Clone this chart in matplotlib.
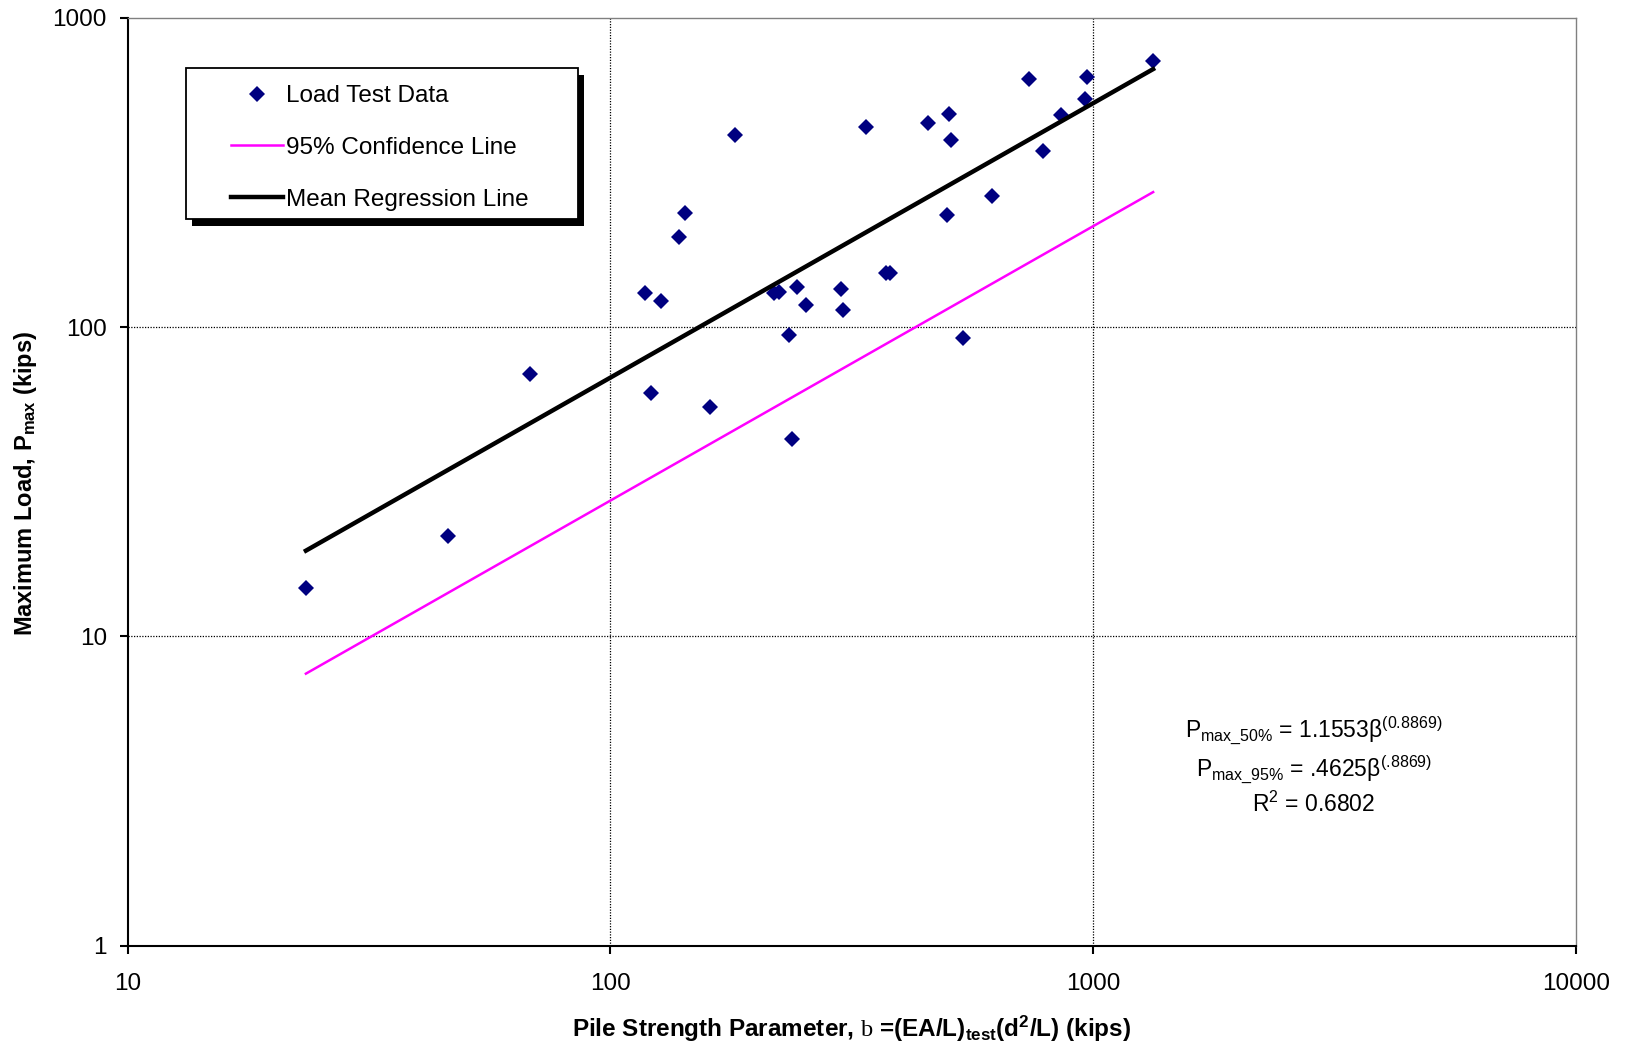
import numpy as np
import matplotlib
matplotlib.use("Agg")
import matplotlib.pyplot as plt
from matplotlib.lines import Line2D
from matplotlib.patches import Rectangle
from matplotlib.ticker import FixedLocator, FixedFormatter, NullLocator

plt.rcParams['font.family'] = ['Liberation Sans', 'DejaVu Sans']
plt.rcParams['mathtext.fontset'] = 'custom'
plt.rcParams['mathtext.rm'] = 'Liberation Serif'
plt.rcParams['mathtext.sf'] = 'Liberation Sans'
plt.rcParams['mathtext.bf'] = 'Liberation Sans:bold'
plt.rcParams['mathtext.it'] = 'Liberation Sans:italic'

# Pile strength parameter (kips) and measured maximum load (kips)
beta = [23.4, 46.0, 68.0, 117.8, 127.4, 121.3, 138.6, 142.7, 160.7, 180.9,
        218.3, 223.8, 235.0, 243.4, 254.4, 237.5, 301.0, 304.0, 339.0, 372.0,
        380.0, 456.0, 503.0, 508.0, 498.0, 539.0, 619.0, 736.0, 789.0, 858.0,
        971.0, 961.0, 1332.0]
pmax = [14.3, 21.1, 70.3, 129.0, 121.5, 61.2, 196.0, 234.0, 55.3, 418.0,
        129.0, 130.0, 94.2, 134.5, 118.0, 43.5, 133.0, 113.4, 444.0, 149.7,
        149.7, 458.0, 488.0, 402.0, 231.0, 92.1, 265.0, 634.0, 372.0, 484.0,
        644.0, 548.0, 723.0]

# Power-law fit: P = a * beta^b
coef_mean = 1.1553
coef_95 = 0.4625
exponent = 0.8869
r_squared = 0.6802

x_ticks = [10, 100, 1000, 10000]
y_ticks = [1, 10, 100, 1000]
x_tick_labels = ["10", "100", "1000", "10000"]
y_tick_labels = ["1", "10", "100", "1000"]

FS = 17.5
W, H = 1625, 1047
fig = plt.figure(figsize=(W / 100, H / 100), dpi=100)
ax_l, ax_r, ax_t, ax_b = 127.7, 1575.7, 17.7, 945.7
ax = fig.add_axes([ax_l / W, 1 - ax_b / H, (ax_r - ax_l) / W, (ax_b - ax_t) / H])
ax.set_xscale('log')
ax.set_yscale('log')
ax.set_xlim(x_ticks[0], x_ticks[-1])
ax.set_ylim(y_ticks[0], y_ticks[-1])

# interior gridlines
for xv in x_ticks[1:-1]:
    ax.axvline(xv, color='black', lw=0.9, ls=(0, (1, 1.2)), zorder=1)
for yv in y_ticks[1:-1]:
    ax.axhline(yv, color='black', lw=0.9, ls=(0, (1, 1.2)), zorder=1)

MS = 8.0
xs = np.sort(np.array(beta))
ax.plot(beta, pmax, ls='none', marker='D', ms=MS, color='#000080',
        markeredgewidth=0, zorder=3)
ax.plot(xs, coef_95 * xs ** exponent, color='#FF00FF', lw=1.8, zorder=4)
ax.plot(xs, coef_mean * xs ** exponent, color='black', lw=3.2, zorder=4)

# axes styling
for side in ('left', 'bottom'):
    ax.spines[side].set_color('black')
    ax.spines[side].set_linewidth(1.5)
for side in ('top', 'right'):
    ax.spines[side].set_color('#808080')
    ax.spines[side].set_linewidth(1.0)

ax.xaxis.set_major_locator(FixedLocator(x_ticks))
ax.xaxis.set_major_formatter(FixedFormatter(x_tick_labels))
ax.yaxis.set_major_locator(FixedLocator(y_ticks))
ax.yaxis.set_major_formatter(FixedFormatter(y_tick_labels))
ax.xaxis.set_minor_locator(NullLocator())
ax.yaxis.set_minor_locator(NullLocator())
ax.tick_params(axis='both', which='major', direction='out', length=6,
               width=1.5, labelsize=FS, colors='black')
ax.tick_params(axis='x', pad=14)
ax.tick_params(axis='y', pad=9)

# legend box with drop shadow
bx0, by0, bx1, by1 = 185.7, 67.7, 578.0, 219.0
shadow = Rectangle(((bx0 + 6) / W, 1 - (by1 + 7) / H), (bx1 - bx0) / W, (by1 - by0) / H,
                   transform=fig.transFigure, facecolor='black', edgecolor='black',
                   lw=0, clip_on=False, zorder=6)
frame = Rectangle((bx0 / W, 1 - by1 / H), (bx1 - bx0) / W, (by1 - by0) / H,
                  transform=fig.transFigure, facecolor='white', edgecolor='black',
                  lw=1.3, clip_on=False, zorder=7)
ax.add_patch(shadow)
ax.add_patch(frame)

handles = [
    Line2D([], [], ls='none', marker='D', ms=MS, color='#000080', markeredgewidth=0),
    Line2D([], [], color='#FF00FF', lw=1.8),
    Line2D([], [], color='black', lw=3.2),
]
labels = ["Load Test Data", "95% Confidence Line", "Mean Regression Line"]
leg = ax.legend(handles, labels, loc='upper left',
                bbox_to_anchor=(231 / W, 1 - 85 / H), bbox_transform=fig.transFigure,
                frameon=False, borderpad=0, borderaxespad=0, handlelength=2.14,
                handletextpad=0.12, labelspacing=1.23, fontsize=FS)
leg.set_zorder(8)

# fit equations
eq_x = (1314 - ax_l) / (ax_r - ax_l)
eq_fs = 16.5
coef_mean_str = f"{coef_mean:.4f}"
coef_95_str = f"{coef_95:.4f}"[1:]
exp_str = f"{exponent:.4f}"
exp_short = exp_str[1:]
eq1 = r"P$_{\mathsf{max\_50\%}}$ = " + coef_mean_str + r"β$^{\mathsf{(" + exp_str + r")}}$"
eq2 = (r"P$_{\mathsf{max\_95\%}}$ = " + coef_95_str + r"β$^{\mathsf{(.\!"
       + exp_short[1:] + r")}}$")
eq3 = r"R$^{\mathsf{2}}$ = " + f"{r_squared:.4f}"
for text, yb in ((eq1, 738), (eq2, 777), (eq3, 812)):
    ax.text(eq_x, (ax_b - yb) / (ax_b - ax_t), text, transform=ax.transAxes,
            ha='center', va='baseline', fontsize=eq_fs)

# axis titles
fig.text((ax_l + ax_r) / 2 / W, 1 - 1029 / H,
         r"Pile Strength Parameter, $\mathrm{b}$ =(EA/L)$_{\mathbf{test}}$(d$^{\mathbf{2}}$/L) (kips)",
         ha='center', va='center', fontsize=17.5, fontweight='bold')
fig.text(26 / W, 1 - 483 / H, r"Maximum Load, P$_{\mathbf{max}}$ (kips)",
         rotation=90, ha='center', va='center', fontsize=17, fontweight='bold')

fig.savefig("out.png", dpi=100, facecolor='white')
